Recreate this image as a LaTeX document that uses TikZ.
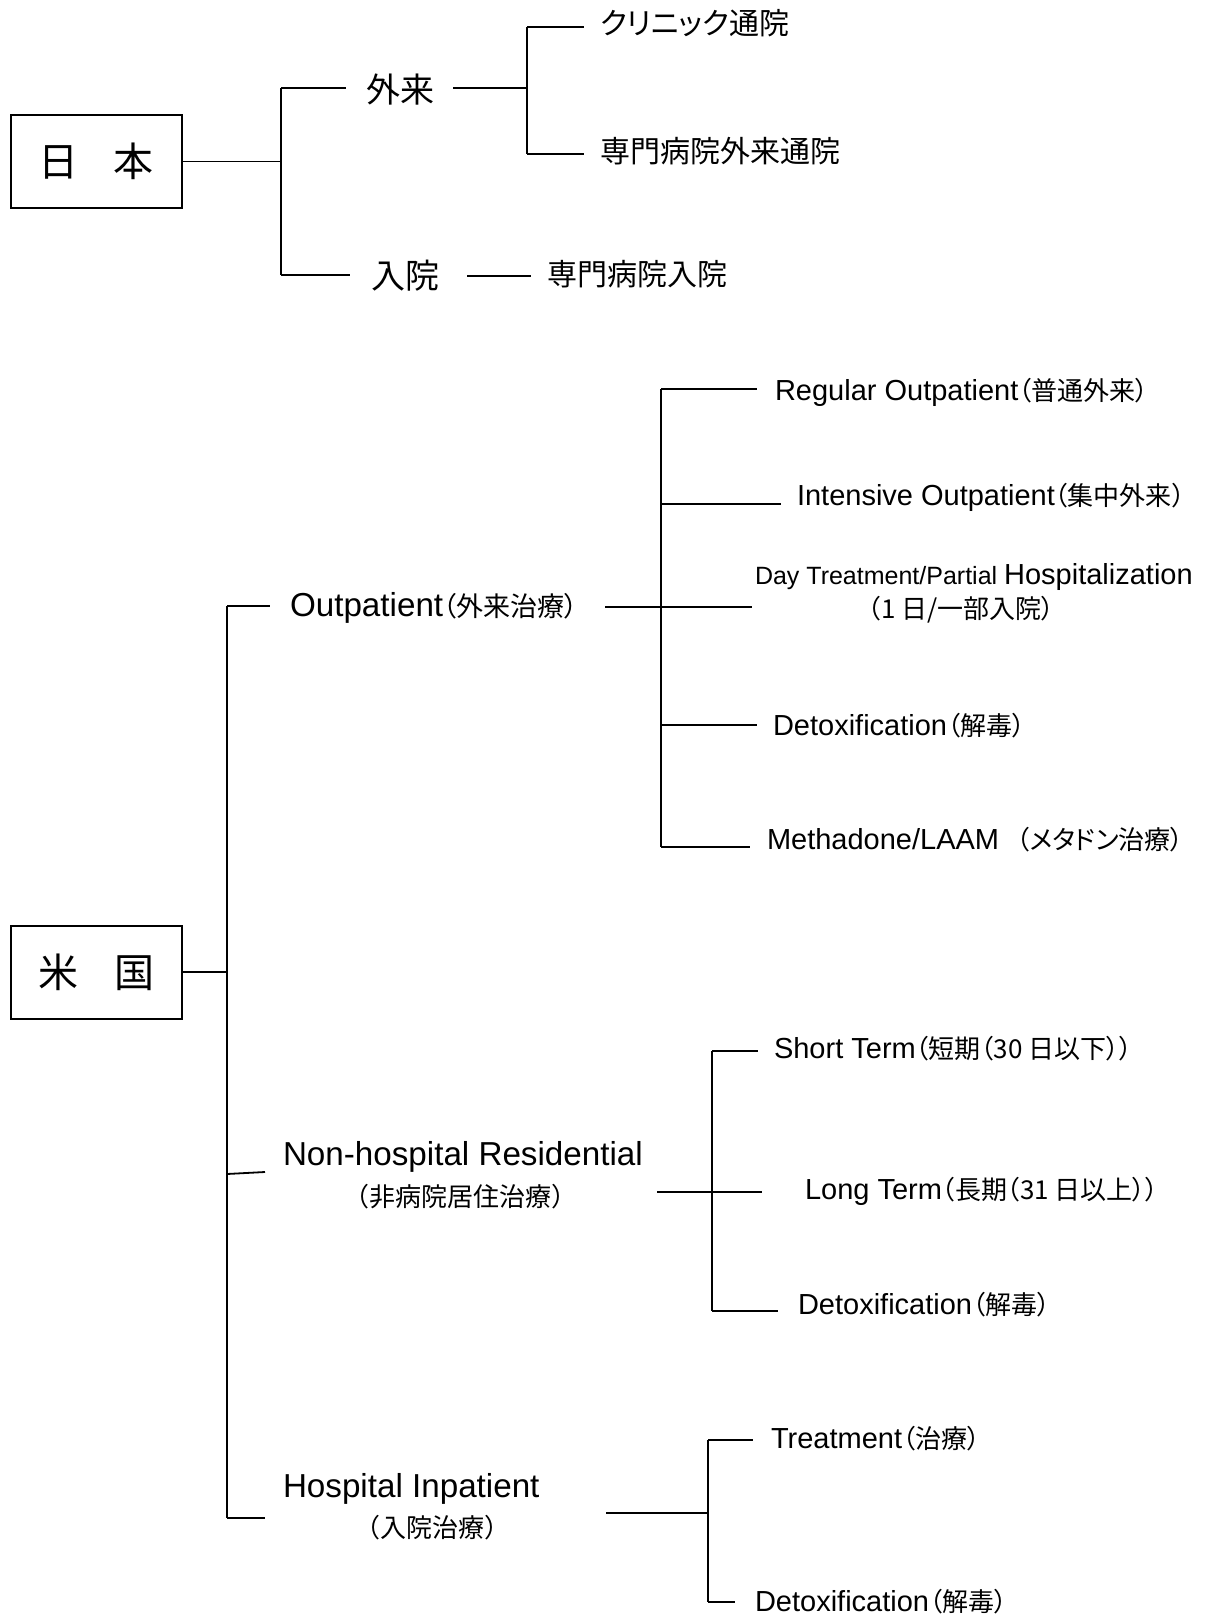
\documentclass[tikz,border=0pt]{standalone}
\usepackage{fontspec}
\setmainfont{Liberation Sans}
\newfontfamily\jp{Noto Sans CJK JP}
\newfontfamily\jpp[RawFeature=+palt]{Noto Sans CJK JP}
\newcommand\fs[1]{\fontsize{#1}{#1}\selectfont}
\newcommand\cj[2]{{\jpp\fontsize{#1}{#1}\selectfont #2}}
\begin{document}
\begin{tikzpicture}[x=0.5pt,y=-0.5pt,line width=0.9pt,
  txt/.style={anchor=west,inner sep=0pt,outer sep=0pt},
  leaf/.style={txt,font=\fs{14.5}},
  mid/.style={txt,font=\fs{16.6}},
  cbox/.style={draw,line width=1pt,minimum width=85.5pt,minimum height=46.5pt,inner sep=0pt,font=\jp\fs{20}}]
\useasboundingbox (0,0) rectangle (1205,1616);

% ---------------- Japan ----------------
\node[cbox] (jp) at (96,161.5) {日\hspace{0.9em}本};
\node[txt,font=\jp\fs{17}] (gairai) at (366,90) {外来};
\node[txt,font=\jp\fs{17}] (nyuin) at (371,276) {入院};
\node[txt,font=\jpp\fs{15}] (clinic) at (600,23) {クリニック通院};
\node[txt,font=\jp\fs{15}] (senmon) at (600,151) {専門病院外来通院};
\node[txt,font=\jp\fs{15}] (senmonn) at (547,274) {専門病院入院};

\coordinate (jv1) at (281,88);
\coordinate (jv2) at (281,275);
\coordinate (gv1) at (527,27);
\coordinate (gv2) at (527,154);
\draw (jp.east) -- (jp.east -| jv1);
\draw (jv1) -- (jv2);
\draw (jv1) -- (346,88);
\draw (jv2) -- (350,275);
\draw (453,88) -- (gv1 |- 0,88);
\draw (gv1) -- (gv2);
\draw (gv1) -- (584,27);
\draw (gv2) -- (584,154);
\draw (467,276) -- (531,276);

% ---------------- USA ----------------
\node[cbox] (us) at (96.5,972) {米\hspace{0.9em}国};
\coordinate (uv1) at (227,606);
\coordinate (uv2) at (227,1518);
\draw (us.east) -- (us.east -| uv1);
\draw (uv1) -- (uv2);

% Outpatient
\node[mid] (op) at (290,608) {Outpatient\cj{13.5}{（外来治療）}};
\draw (uv1) -- (270,606);
\coordinate (ov1) at (661,389);
\coordinate (ov2) at (661,847);
\draw (605,607) -- (752,607);
\draw (ov1) -- (ov2);
\node[leaf] (reg) at (775,392) {Regular Outpatient\cj{13}{（普通外来）}};
\draw (ov1) -- (757,389);
\node[leaf] (int) at (797,497) {Intensive Outpatient\cj{13}{（集中外来）}};
\draw (661,504) -- (781,504);
\node[leaf] (day) at (755,577) {{\fs{12.5}Day Treatment/Partial }Hospitalization};
\node[txt,font=\jpp\fs{13}] (day2) at (868,610) {（1 日/一部入院）};
\node[leaf] (detox1) at (773,726) {Detoxification\cj{13}{（解毒）}};
\draw (661,725) -- (757,725);
\node[leaf] (meth) at (767,840) {Methadone/LAAM\hspace{0.6em}\cj{13}{（メタドン治療）}};
\draw (ov2) -- (750,847);

% Non-hospital Residential
\node[mid] (nh) at (283,1157) {Non-hospital Residential};
\node[txt,font=\jp\fs{13}] (nh2) at (343,1197) {（非病院居住治療）};
\draw (227,1174) -- (265,1172);
\coordinate (nv1) at (712,1051);
\coordinate (nv2) at (712,1311);
\draw (657,1192) -- (762,1192);
\draw (nv1) -- (nv2);
\node[leaf] (st) at (774,1049) {Short Term\cj{13}{（短期（30 日以下））}};
\draw (nv1) -- (758,1051);
\node[leaf] (lt) at (805,1191) {Long Term\cj{13}{（長期（31 日以上））}};
\node[leaf] (detox2) at (798,1305) {Detoxification\cj{13}{（解毒）}};
\draw (nv2) -- (778,1311);

% Hospital Inpatient
\node[mid] (hi) at (283,1489) {Hospital Inpatient};
\node[txt,font=\jp\fs{13}] (hi2) at (354,1528) {（入院治療）};
\draw (uv2) -- (265,1518);
\coordinate (hv1) at (708,1440);
\coordinate (hv2) at (708,1602);
\draw (606,1513) -- (708,1513);
\draw (hv1) -- (hv2);
\node[leaf] (tr) at (771,1439) {Treatment\cj{13}{（治療）}};
\draw (hv1) -- (753,1440);
\node[leaf] (detox3) at (755,1602) {Detoxification\cj{13}{（解毒）}};
\draw (hv2) -- (735,1602);
\end{tikzpicture}
\end{document}
